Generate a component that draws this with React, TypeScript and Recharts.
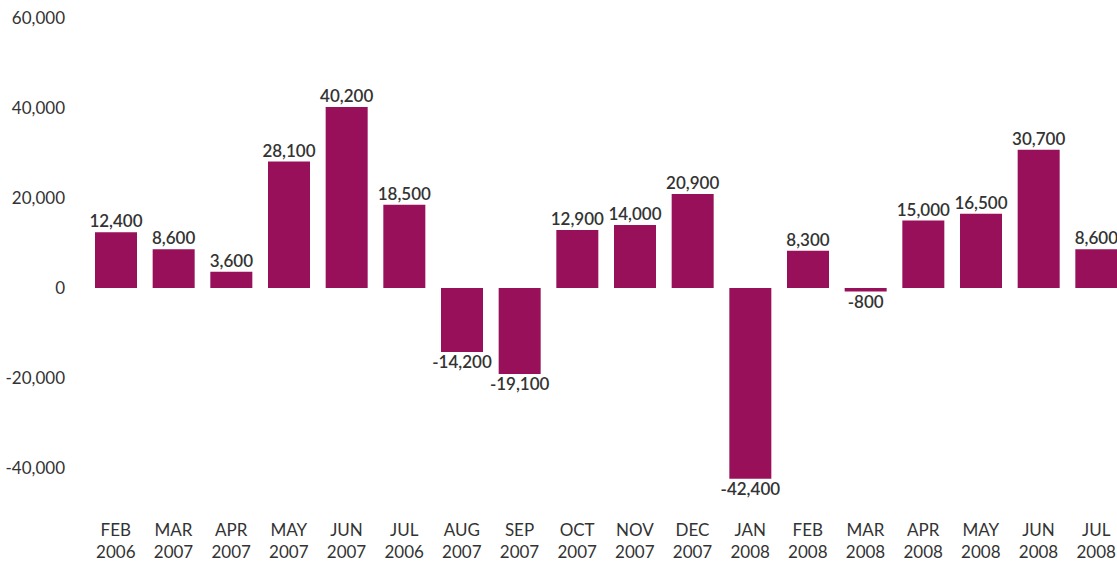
import { BarChart, Bar, XAxis, YAxis, LabelList } from 'recharts';

const months = ['FEB', 'MAR', 'APR', 'MAY', 'JUN', 'JUL', 'AUG', 'SEP', 'OCT', 'NOV', 'DEC', 'JAN', 'FEB', 'MAR', 'APR', 'MAY', 'JUN', 'JUL'];
const years = ['2006', '2007', '2007', '2007', '2007', '2006', '2007', '2007', '2007', '2007', '2007', '2008', '2008', '2008', '2008', '2008', '2008', '2008'];
const values = [12400, 8600, 3600, 28100, 40200, 18500, -14200, -19100, 12900, 14000, 20900, -42400, 8300, -800, 15000, 16500, 30700, 8600];
const yTicks = [-40000, -20000, 0, 20000, 40000, 60000];

const data = months.map((m, i) => ({ key: `${m} ${years[i]}`, month: m, year: years[i], value: values[i] }));

const FONT = 'Lato, "Open Sans", sans-serif';
const fmt = (v: number) => v.toLocaleString('en-US');

function MonthTick(props: any) {
  const { x, y, payload } = props;
  const [m, yr] = String(payload.value).split(' ');
  return (
    <text x={x} y={y} textAnchor="middle" fill="#333" fontSize={17} fontFamily={FONT}>
      <tspan x={x} dy={15}>{m}</tspan>
      <tspan x={x} dy={22}>{yr}</tspan>
    </text>
  );
}

function ValueLabel(props: any) {
  const { x, y, width, height, value } = props;
  const top = Math.min(y, y + height);
  const bottom = Math.max(y, y + height);
  const cx = x + width / 2;
  const ty = value >= 0 ? top - 5 : bottom + 16;
  return (
    <text x={cx} y={ty} textAnchor="middle" fill="#333" fontSize={17} fontWeight={600} fontFamily={FONT}>
      {fmt(value)}
    </text>
  );
}

export default function App() {
  return (
    <div style={{ position: 'absolute', left: 0, top: 0, width: 1117, height: 562, overflow: 'hidden', background: '#fff' }}>
      <BarChart width={1125} height={562} data={data} margin={{ top: 18, right: 0, left: 0, bottom: 0 }}>
        <XAxis dataKey="key" axisLine={false} tickLine={false} height={49} interval={0} tick={<MonthTick />} />
        <YAxis
          width={87}
          domain={[-50000, 60000]}
          ticks={yTicks}
          axisLine={false}
          tickLine={false}
          tickMargin={16}
          tickFormatter={fmt}
          tick={{ fill: '#333', fontSize: 17, fontFamily: FONT }}
        />
        <Bar dataKey="value" fill="#98105A" barSize={42} isAnimationActive={false}>
          <LabelList dataKey="value" content={<ValueLabel />} />
        </Bar>
      </BarChart>
    </div>
  );
}
